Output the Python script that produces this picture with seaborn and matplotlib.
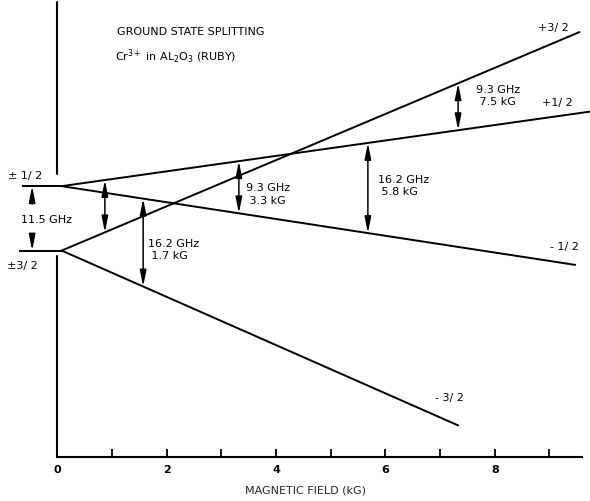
import numpy as np
import pandas as pd
import seaborn as sns
import matplotlib.pyplot as plt

# Ground state levels of Cr3+ in ruby: field (kG) and energy (GHz) at both ends
levels = ['+3/2', '+1/2', '-1/2', '-3/2']
field_start = [0.08, 0.08, 0.08, 0.08]
energy_start = [0.0, 11.5, 11.5, 0.0]
field_end = [9.55, 9.74, 9.47, 7.33]
energy_end = [39.0, 24.8, -2.55, -31.2]

zero_field_splitting = 11.5  # GHz, between +-1/2 and +-3/2

# resonance transitions drawn as double arrows
trans_field = [0.87, 1.57, 3.32, 5.68, 7.33]
trans_upper = ['+1/2', '-1/2', '+1/2', '+1/2', '+3/2']
trans_lower = ['+3/2', '-3/2', '-1/2', '-1/2', '+1/2']
trans_freq = ['', '16.2 GHz', '9.3 GHz', '16.2 GHz', '9.3 GHz']
trans_kg = ['', '1.7 kG', '3.3 kG', '5.8 kG', '7.5 kG']

xticks = [0, 1, 2, 3, 4, 5, 6, 7, 8, 9]
xtick_labels = ['0', '', '2', '', '4', '', '6', '', '8', '']

df = pd.DataFrame({
    'level': levels * 2,
    'field': field_start + field_end,
    'energy': energy_start + energy_end,
})


def level_energy(name, b):
    i = levels.index(name)
    return np.interp(b, [field_start[i], field_end[i]], [energy_start[i], energy_end[i]])


sns.set_theme(style="white")
plt.rcParams['font.family'] = ['DejaVu Sans']
plt.rcParams['text.color'] = 'black'
plt.rcParams['xtick.color'] = 'black'
FS = 8

fig = plt.figure(figsize=(5.9, 5.02), dpi=100)
ax = fig.add_axes([57.3 / 590, 44 / 502, 524.4 / 590, 458 / 502])
ax.set_xlim(0, 9.59)
ax.set_ylim(-36.84, 44.9)

sns.lineplot(data=df, x='field', y='energy', units='level', estimator=None,
             sort=False, color='black', lw=1.4, legend=False, ax=ax)
for ln in ax.lines:
    ln.set_clip_on(False)

# short zero-field stubs on the left
ax.hlines(zero_field_splitting, -0.65, field_start[1], color='black', lw=1.4, clip_on=False)
ax.hlines(0, -0.70, field_start[0], color='black', lw=1.4, clip_on=False)
ax.text(-0.59, 13.5, '± 1/ 2', fontsize=FS, ha='center', va='center')
ax.text(-0.63, -2.55, '±3/ 2', fontsize=FS, ha='center', va='center')

# 11.5 GHz split marker
arrow = dict(arrowstyle='-|>,head_length=0.8,head_width=0.16', color='black', lw=1.1,
             shrinkA=0, shrinkB=0)
ax.annotate('', xy=(-0.46, zero_field_splitting), xytext=(-0.46, 8.3),
            arrowprops=arrow, annotation_clip=False)
ax.annotate('', xy=(-0.46, 0), xytext=(-0.46, 3.0),
            arrowprops=arrow, annotation_clip=False)
ax.text(-0.19, 5.66, f'{zero_field_splitting} GHz', fontsize=FS, ha='center', va='center')

# transitions
darrow = dict(arrowstyle='<|-|>,head_length=0.8,head_width=0.16', color='black', lw=1.1,
              shrinkA=0, shrinkB=0)
for b, up, lo in zip(trans_field, trans_upper, trans_lower):
    ax.annotate('', xy=(b, level_energy(up, b)), xytext=(b, level_energy(lo, b)),
                arrowprops=darrow)

label_pos = [None, (1.66, 0.3), (3.45, 10.2), (5.87, 11.7), (7.66, 27.75)]
for pos, f, k in zip(label_pos, trans_freq, trans_kg):
    if pos is None:
        continue
    ax.text(pos[0], pos[1], f'{f}\n {k}', fontsize=FS, ha='left', va='center',
            linespacing=1.3)

# level names on the right
name_text = ['+3/ 2', '+1/ 2', '- 1/ 2', '- 3/ 2']
name_pos = [(9.08, 39.9), (9.14, 26.6), (9.27, 0.84), (7.18, -26.2)]
for txt, (x, y) in zip(name_text, name_pos):
    ax.text(x, y, txt, fontsize=FS, ha='center', va='center')

ax.text(2.44, 39.1, 'GROUND STATE SPLITTING', fontsize=FS, ha='center', va='center')
ax.text(1.06, 34.8, r'Cr$^{3+}$ in AL$_2$O$_3$ (RUBY)', fontsize=FS, ha='left', va='center')

# axes: broken left spine, bottom axis with inward ticks
for s in ['top', 'right', 'left']:
    ax.spines[s].set_visible(False)
ax.spines['bottom'].set_linewidth(1.5)
ax.spines['bottom'].set_color('black')
ax.plot([0, 0], [44.4, 13.7], color='black', lw=1.5, clip_on=False)
ax.plot([0, 0], [-0.95, -36.84], color='black', lw=1.5, clip_on=False)

ax.set_xticks(xticks)
ax.set_xticklabels(xtick_labels, fontsize=FS, fontweight='bold')
ax.tick_params(axis='x', direction='in', length=6, width=1.3, color='black', pad=5,
               bottom=True)
ax.set_yticks([])
ax.set_ylabel('')
ax.set_xlabel('MAGNETIC FIELD (kG)', fontsize=FS)
ax.xaxis.set_label_coords(0.474, -0.06)

fig.savefig('out.png', dpi=100)
